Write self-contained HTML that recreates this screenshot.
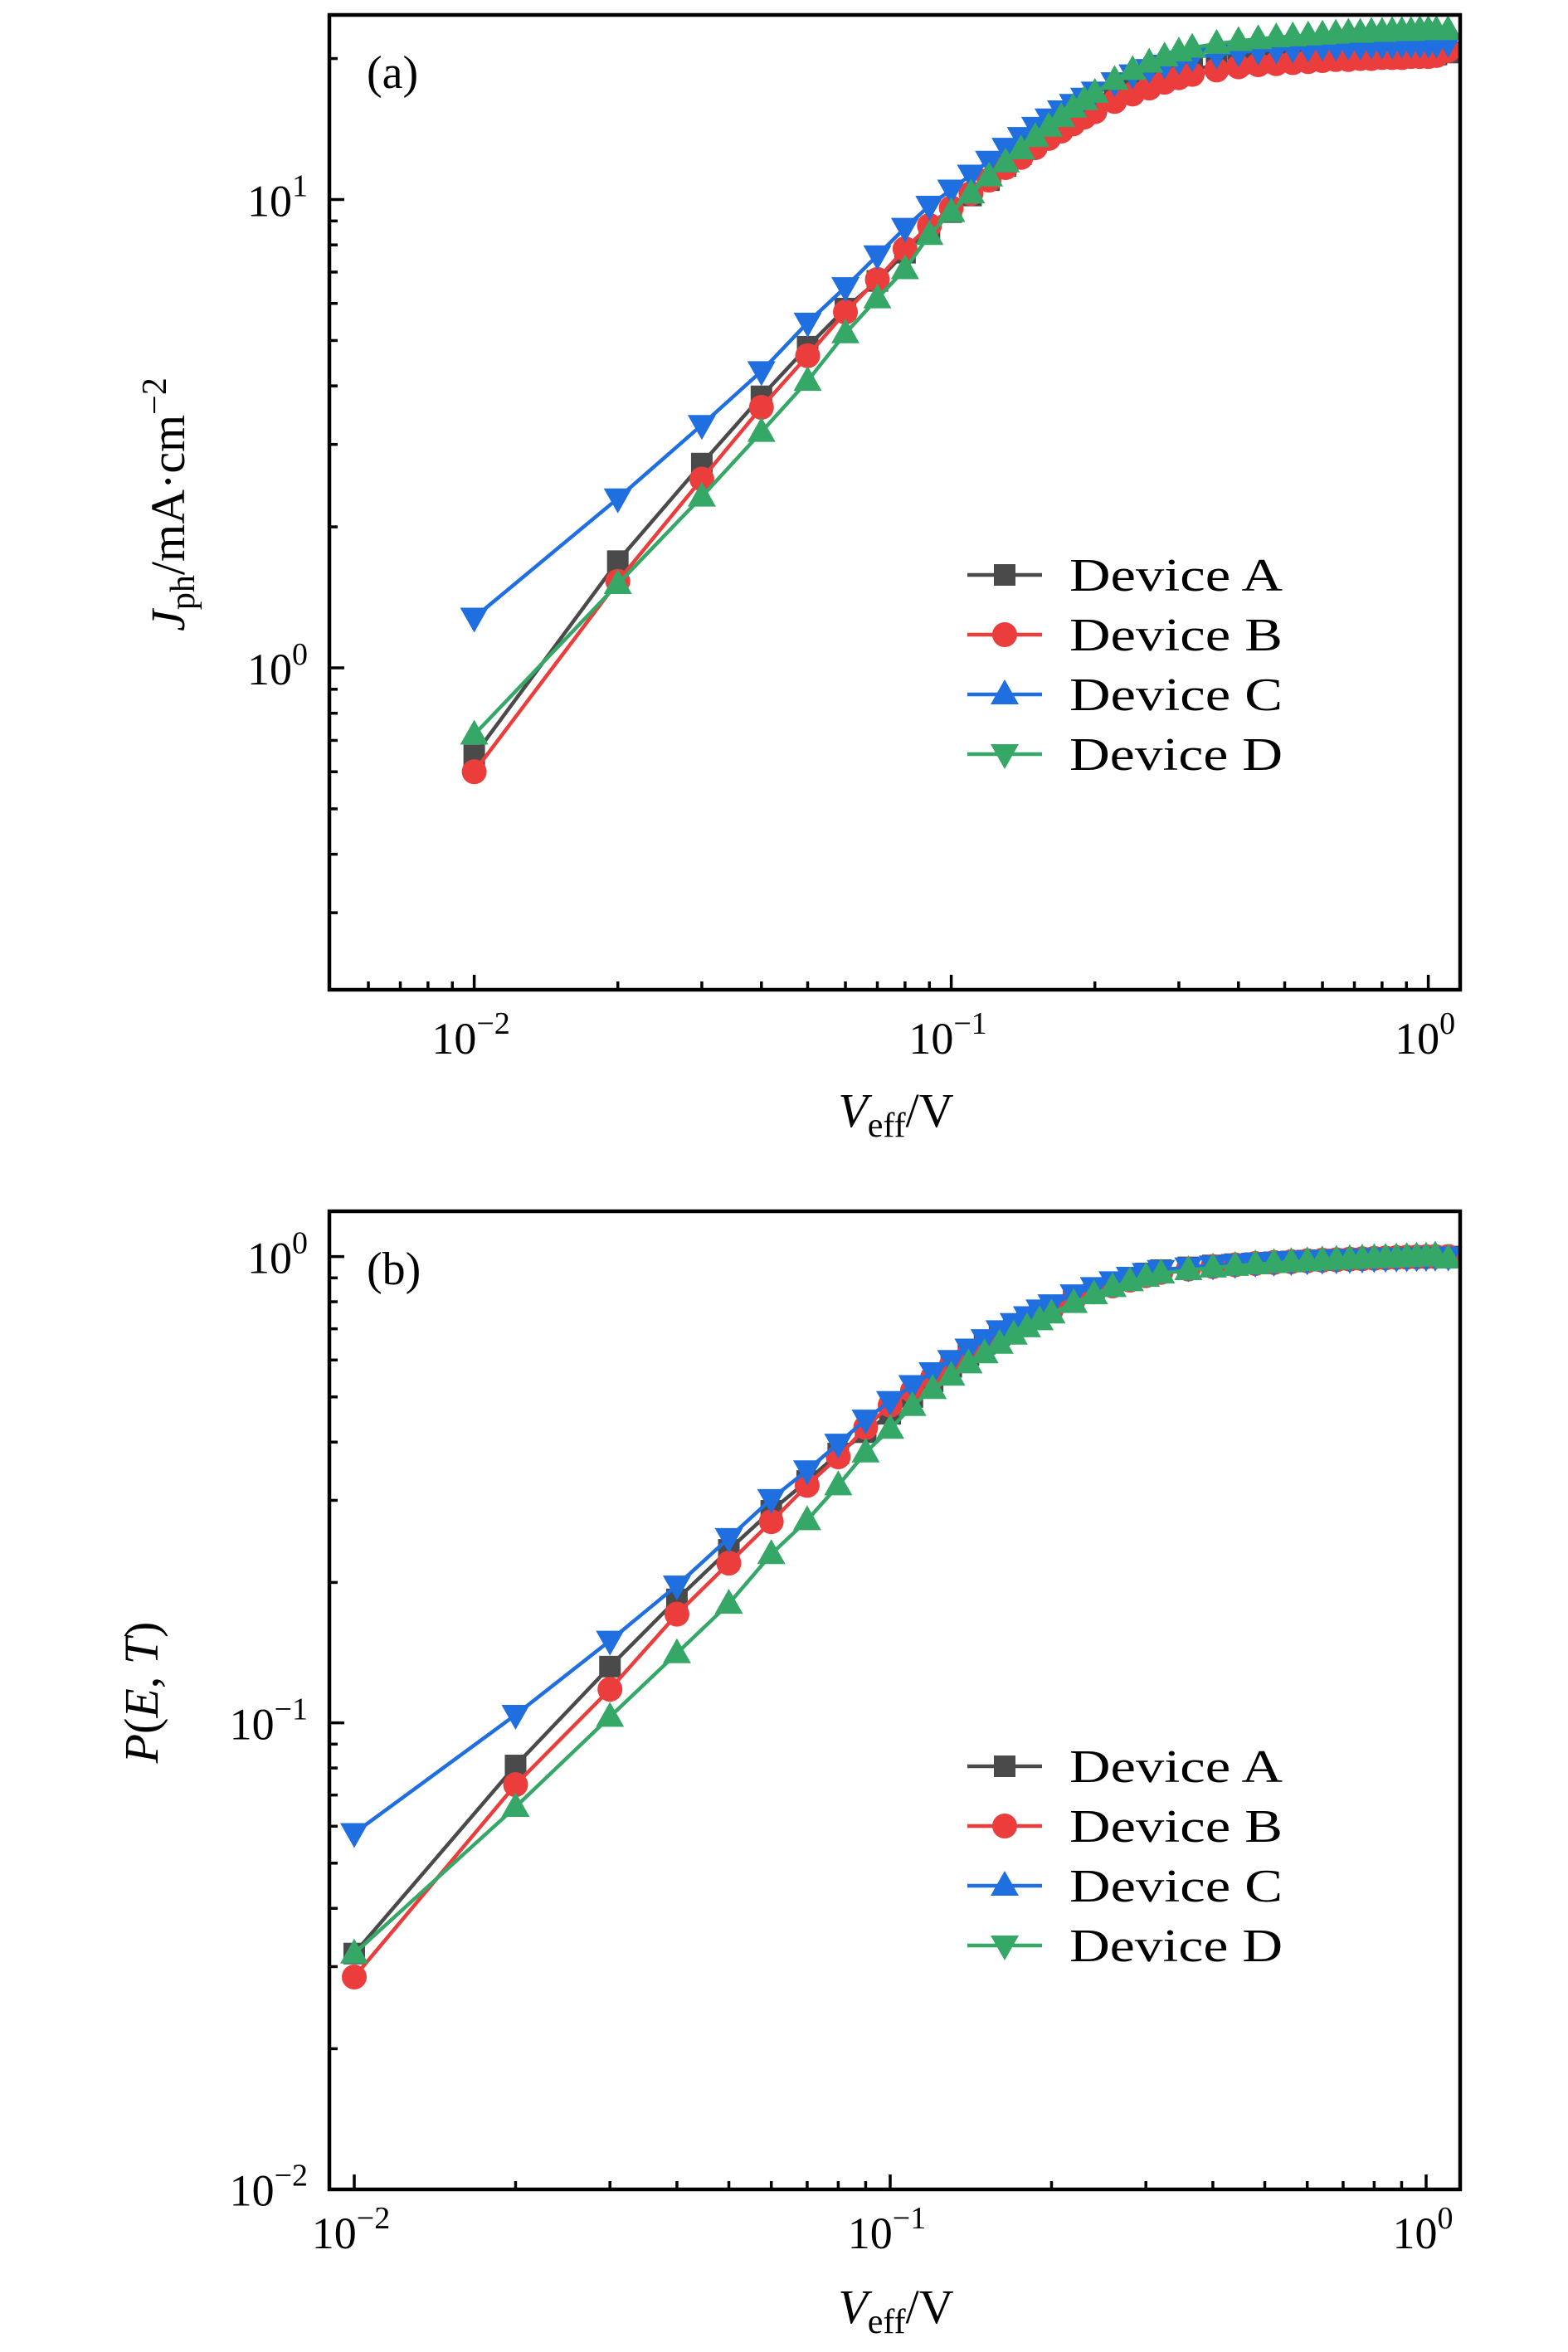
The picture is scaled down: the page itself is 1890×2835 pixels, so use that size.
<!DOCTYPE html>
<html><head><meta charset="utf-8"><style>
html,body{margin:0;padding:0;background:#fff;}
svg{display:block;font-family:"Liberation Serif",serif;}
</style></head><body>
<svg id="chart" width="1890" height="2835" viewBox="0 0 1890 2835" xmlns="http://www.w3.org/2000/svg">
<rect width="1890" height="2835" fill="#fff"/>
</svg>
<script>
const xVals=[0.01,0.02,0.03,0.04,0.05,0.06,0.07,0.08,0.09,0.10,0.11,0.12,0.13,0.14,0.15,0.16,0.17,0.18,0.19,0.20,0.22,0.24,0.26,0.28,0.30,0.32,0.36,0.40,0.44,0.48,0.52,0.56,0.60,0.64,0.68,0.72,0.76,0.80,0.84,0.88,0.92,0.96,1.00,1.04,1.10];
const jA=[0.65,1.69,2.73,3.8,4.85,5.85,6.7,7.7,8.6,9.4,10.2,11.0,11.8,12.5,13.2,13.8,14.4,15.0,15.5,16.0,16.8,17.4,17.9,18.3,18.7,19.0,19.3,19.5,19.6,19.7,19.8,19.9,20.0,20.0,20.1,20.1,20.2,20.2,20.2,20.3,20.3,20.3,20.3,20.4,20.6];
const jB=[0.6,1.53,2.53,3.6,4.64,5.75,6.75,7.85,8.8,9.6,10.3,11.0,11.7,12.3,12.9,13.5,14.0,14.5,15.0,15.4,16.2,16.8,17.3,17.8,18.2,18.5,18.9,19.2,19.4,19.5,19.6,19.7,19.8,19.9,19.9,20.0,20.0,20.1,20.1,20.1,20.2,20.2,20.2,20.3,20.8];
const jC=[1.28,2.3,3.3,4.3,5.46,6.5,7.6,8.7,9.7,10.5,11.3,12.1,12.9,13.6,14.3,14.9,15.5,16.0,16.5,17.0,17.8,18.5,19.0,19.4,19.8,20.1,20.4,20.6,20.8,20.9,21.0,21.1,21.2,21.2,21.3,21.3,21.4,21.4,21.4,21.5,21.5,21.5,21.5,21.5,21.6];
const jD=[0.72,1.51,2.32,3.19,4.1,5.18,6.15,7.1,8.4,9.4,10.3,11.2,12.0,12.8,13.6,14.3,15.0,15.7,16.3,16.9,18.0,18.9,19.6,20.2,20.7,21.1,21.5,21.8,22.0,22.2,22.3,22.4,22.5,22.6,22.7,22.7,22.8,22.8,22.9,22.9,22.9,23.0,23.0,23.0,23.0];
const pA=[0.032,0.081,0.132,0.184,0.235,0.285,0.33,0.378,0.42,0.46,0.50,0.54,0.58,0.615,0.65,0.68,0.71,0.735,0.76,0.785,0.825,0.855,0.88,0.90,0.92,0.935,0.948,0.957,0.963,0.968,0.972,0.976,0.98,0.982,0.985,0.987,0.99,0.992,0.994,0.996,0.997,0.998,0.999,1.0,1.0];
const pB=[0.0285,0.0737,0.118,0.171,0.22,0.27,0.323,0.372,0.43,0.48,0.515,0.55,0.585,0.615,0.645,0.675,0.70,0.725,0.75,0.77,0.81,0.84,0.865,0.89,0.91,0.925,0.94,0.952,0.96,0.966,0.971,0.975,0.979,0.982,0.984,0.987,0.989,0.991,0.993,0.995,0.997,0.998,0.999,1.0,1.0];
const pC=[0.058,0.104,0.15,0.197,0.249,0.302,0.348,0.397,0.447,0.49,0.53,0.565,0.60,0.635,0.665,0.695,0.72,0.745,0.77,0.79,0.83,0.86,0.885,0.905,0.922,0.936,0.948,0.957,0.964,0.97,0.974,0.978,0.981,0.984,0.986,0.988,0.99,0.992,0.994,0.995,0.996,0.997,0.998,0.999,1.0];
const pD=[0.032,0.066,0.103,0.141,0.18,0.23,0.272,0.323,0.38,0.427,0.478,0.52,0.555,0.59,0.62,0.65,0.68,0.705,0.73,0.755,0.795,0.83,0.86,0.885,0.905,0.92,0.935,0.947,0.955,0.962,0.968,0.973,0.977,0.981,0.984,0.987,0.99,0.992,0.994,0.996,0.998,1.0,1.0,1.005,0.99];
const seriesNames=["Device A","Device B","Device C","Device D"];
const xTickExps=[-2,-1,0];
const yTickExpsA=[0,1];
const yTickExpsB=[-2,-1,0];

const NS="http://www.w3.org/2000/svg";
const svg=document.getElementById('chart');
const colors=["#4a4a4a","#ec3d3d","#1f6fe0","#35a868"];
const plotMarkers=["square","circle","down","up"];
const legendMarkers=["square","circle","up","down"];
function mk(tag,attrs,parent){const e=document.createElementNS(NS,tag);for(const k in attrs)e.setAttribute(k,attrs[k]);(parent||svg).appendChild(e);return e;}
function marker(g,type,x,y,c){
  let e;
  if(type==="square") e=mk('rect',{x:x-13,y:y-13,width:26,height:26,fill:c},g);
  else if(type==="circle") e=mk('circle',{cx:x,cy:y,r:15,fill:c},g);
  else if(type==="up") e=mk('polygon',{points:`${x},${y-18} ${x-17},${y+12} ${x+17},${y+12}`,fill:c},g);
  else e=mk('polygon',{points:`${x},${y+18} ${x-17},${y-12} ${x+17},${y-12}`,fill:c},g);
  return e;
}
function supLabel(g,x,y,exp,anchor){
  const t=mk('text',{x:x,y:y,'font-size':54,'text-anchor':anchor,fill:'#000'},g);
  t.appendChild(document.createTextNode('10'));
  const s=mk('tspan',{dy:-24,'font-size':38},t);s.textContent=exp<0?'\u2212'+(-exp):String(exp);
  return t;
}
function panel(cfg){
  const g=mk('g',{});
  
  
  const X=v=>cfg.x0px+(Math.log10(v)-cfg.x0exp)*cfg.xdec;
  const Y=v=>cfg.y0px-(Math.log10(v)-cfg.y0exp)*cfg.ydec;
  const L=cfg.left,R=cfg.right,T=cfg.top,B=cfg.bottom;
  cfg.data.forEach((arr,i)=>{
    const sg=mk('g',{},g);
    
    
    const pts=arr.map((v,j)=>X(xVals[j]).toFixed(1)+','+Y(v).toFixed(1)).join(' ');
    const pl=mk('polyline',{points:pts,fill:'none',stroke:colors[i],'stroke-width':4.5},sg);
    
    
    arr.forEach((v,j)=>{
      const m=marker(sg,plotMarkers[i],X(xVals[j]),Y(v),colors[i]);
      
      
    });
  });
  const tg=mk('g',{stroke:'#000','stroke-width':3.5},g);
  for(let e=cfg.xmin;e<=cfg.xmax;e++){
    for(let m=1;m<10;m++){
      const v=m*Math.pow(10,e);const px=X(v);
      if(px<L+2||px>R-2)continue;
      const len=m===1?18:10;
      mk('line',{x1:px,y1:B,x2:px,y2:B-len},tg);
    }
  }
  for(let e=cfg.ymin;e<=cfg.ymax;e++){
    for(let m=1;m<10;m++){
      const v=m*Math.pow(10,e);const py=Y(v);
      if(py<T+2||py>B-2)continue;
      const len=m===1?18:10;
      mk('line',{x1:L,y1:py,x2:L+len,y2:py},tg);
    }
  }
  const box=mk('rect',{x:L,y:T,width:R-L,height:B-T,fill:'none',stroke:'#000','stroke-width':4.5},g);
  
  
  xTickExps.forEach(e=>{
    const t=supLabel(g,X(Math.pow(10,e))-4,cfg.xLabelY,e,'middle');
    
    
  });
  cfg.yTicks.forEach(e=>{
    const t=supLabel(g,L-26,Y(Math.pow(10,e))+20,e,'end');
    
    
  });
  const pl=mk('text',{x:442,y:cfg.tagY,'font-size':56,fill:'#000'},g);pl.textContent=cfg.tag;
  
  
  const lg=mk('g',{},g);
  
  
  seriesNames.forEach((n,i)=>{
    const y=cfg.legY+i*72;
    const eg=mk('g',{},lg);
    
    
    mk('line',{x1:1166,y1:y,x2:1256,y2:y,stroke:colors[i],'stroke-width':4.5},eg);
    marker(eg,legendMarkers[i],1211,y,colors[i]);
    const t=mk('text',{x:1289,y:y+19,'font-size':56,fill:'#000',textLength:257,lengthAdjust:'spacingAndGlyphs'},eg);
    t.textContent=n;
  });
  const xt=mk('text',{x:1080,y:cfg.xTitleY,'font-size':58,'text-anchor':'middle',fill:'#000'},g);
  
  
  xt.innerHTML='<tspan font-style="italic">V</tspan><tspan font-size="42" dy="12">eff</tspan><tspan dy="-12">/V</tspan>';
  const yt=mk('text',{x:0,y:0,'font-size':58,'text-anchor':'middle',fill:'#000',transform:`translate(${cfg.yTitleX},${cfg.yTitleY}) rotate(-90)`},g);
  
  
  yt.innerHTML=cfg.yTitle;
}
panel({name:'panel-a-jph',left:397,right:1760,top:18,bottom:1193,
  x0px:571.6,x0exp:-2,xdec:575,y0px:805,y0exp:0,ydec:564.5,
  xmin:-3,xmax:0,ymin:-1,ymax:1,data:[jA,jB,jC,jD],yTicks:yTickExpsA,
  xLabelY:1270,tag:'(a)',tagY:106,legY:693,xTitleY:1358,yTitleX:222,yTitleY:608,
  yTitle:'<tspan font-style="italic">J</tspan><tspan font-size="42" dy="12">ph</tspan><tspan dy="-12">/mA·cm</tspan><tspan font-size="42" dy="-22">−2</tspan>'});
panel({name:'panel-b-probability',left:397,right:1760,top:1460,bottom:2639,
  x0px:427,x0exp:-2,xdec:646,y0px:1514.6,y0exp:0,ydec:562,
  xmin:-3,xmax:0,ymin:-2,ymax:0,data:[pA,pB,pC,pD],yTicks:yTickExpsB,
  xLabelY:2710,tag:'(b)',tagY:1548,legY:2129,xTitleY:2800,yTitleX:190,yTitleY:2040,
  yTitle:'<tspan font-style="italic">P</tspan>(<tspan font-style="italic">E</tspan>, <tspan font-style="italic">T</tspan>)'});
</script>
</body></html>
